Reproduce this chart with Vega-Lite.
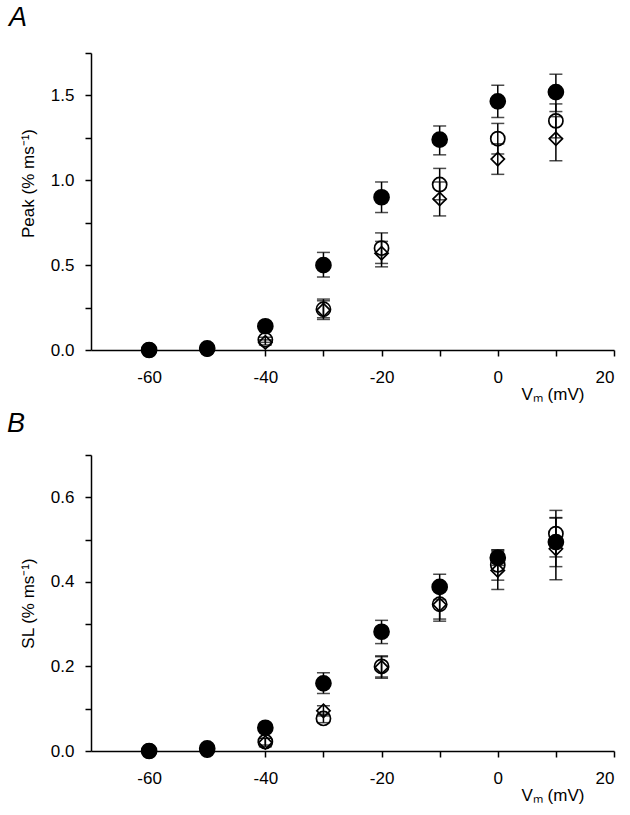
{
  "$schema": "https://vega.github.io/schema/vega-lite/v6.json",
  "padding": {"left": 7, "top": 4, "right": 5, "bottom": 5},
  "background": "white",
  "config": {
    "font": "Liberation Sans",
    "view": {"stroke": null},
    "axis": {
      "grid": false,
      "domainColor": "black",
      "domainWidth": 1.5,
      "tickColor": "black",
      "tickWidth": 1.5,
      "tickSize": 6,
      "labelColor": "black",
      "labelFontSize": 17,
      "labelFont": "Liberation Sans",
      "titleColor": "black",
      "titleFont": "Liberation Sans",
      "titleFontWeight": "normal",
      "titleFontSize": 17
    },
    "title": {"color": "black", "font": "Liberation Sans"}
  },
  "datasets": {
    "peak": [
      {"v": -60, "series": "open", "y": 0.0, "lo": -0.01, "hi": 0.01},
      {"v": -60, "series": "diamond", "y": 0.0, "lo": -0.01, "hi": 0.01},
      {"v": -60, "series": "filled", "y": 0.0, "lo": -0.01, "hi": 0.01},
      {"v": -50, "series": "open", "y": 0.005, "lo": 0.0, "hi": 0.01},
      {"v": -50, "series": "diamond", "y": 0.005, "lo": 0.0, "hi": 0.01},
      {"v": -50, "series": "filled", "y": 0.01, "lo": 0.0, "hi": 0.02},
      {"v": -40, "series": "open", "y": 0.06, "lo": 0.045, "hi": 0.075},
      {"v": -40, "series": "diamond", "y": 0.045, "lo": 0.03, "hi": 0.06},
      {"v": -40, "series": "filled", "y": 0.14, "lo": 0.12, "hi": 0.16},
      {"v": -30, "series": "open", "y": 0.24, "lo": 0.19, "hi": 0.29},
      {"v": -30, "series": "diamond", "y": 0.235, "lo": 0.18, "hi": 0.3},
      {"v": -30, "series": "filled", "y": 0.5, "lo": 0.43, "hi": 0.575},
      {"v": -20, "series": "open", "y": 0.6, "lo": 0.51, "hi": 0.69},
      {"v": -20, "series": "diamond", "y": 0.57, "lo": 0.49, "hi": 0.64},
      {"v": -20, "series": "filled", "y": 0.9, "lo": 0.81, "hi": 0.99},
      {"v": -10, "series": "open", "y": 0.975, "lo": 0.885, "hi": 1.07},
      {"v": -10, "series": "diamond", "y": 0.89, "lo": 0.79, "hi": 0.99},
      {"v": -10, "series": "filled", "y": 1.24, "lo": 1.15, "hi": 1.32},
      {"v": 0, "series": "open", "y": 1.245, "lo": 1.155, "hi": 1.335},
      {"v": 0, "series": "diamond", "y": 1.125, "lo": 1.035, "hi": 1.215},
      {"v": 0, "series": "filled", "y": 1.465, "lo": 1.37, "hi": 1.56},
      {"v": 10, "series": "open", "y": 1.35, "lo": 1.25, "hi": 1.45},
      {"v": 10, "series": "diamond", "y": 1.245, "lo": 1.115, "hi": 1.375},
      {"v": 10, "series": "filled", "y": 1.52, "lo": 1.405, "hi": 1.625}
    ],
    "sl": [
      {"v": -60, "series": "open", "y": 0.0, "lo": -0.004, "hi": 0.004},
      {"v": -60, "series": "diamond", "y": 0.0, "lo": -0.004, "hi": 0.004},
      {"v": -60, "series": "filled", "y": 0.0, "lo": -0.004, "hi": 0.004},
      {"v": -50, "series": "open", "y": 0.002, "lo": 0.0, "hi": 0.005},
      {"v": -50, "series": "diamond", "y": 0.002, "lo": 0.0, "hi": 0.005},
      {"v": -50, "series": "filled", "y": 0.006, "lo": 0.002, "hi": 0.01},
      {"v": -40, "series": "open", "y": 0.022, "lo": 0.014, "hi": 0.03},
      {"v": -40, "series": "diamond", "y": 0.02, "lo": 0.01, "hi": 0.03},
      {"v": -40, "series": "filled", "y": 0.055, "lo": 0.047, "hi": 0.063},
      {"v": -30, "series": "open", "y": 0.077, "lo": 0.067, "hi": 0.087},
      {"v": -30, "series": "diamond", "y": 0.095, "lo": 0.083, "hi": 0.107},
      {"v": -30, "series": "filled", "y": 0.16, "lo": 0.136, "hi": 0.185},
      {"v": -20, "series": "open", "y": 0.2, "lo": 0.175, "hi": 0.225},
      {"v": -20, "series": "diamond", "y": 0.198, "lo": 0.172, "hi": 0.223},
      {"v": -20, "series": "filled", "y": 0.282, "lo": 0.254, "hi": 0.309},
      {"v": -10, "series": "open", "y": 0.347, "lo": 0.312, "hi": 0.382},
      {"v": -10, "series": "diamond", "y": 0.346, "lo": 0.307, "hi": 0.386},
      {"v": -10, "series": "filled", "y": 0.388, "lo": 0.358, "hi": 0.418},
      {"v": 0, "series": "open", "y": 0.44, "lo": 0.404, "hi": 0.476},
      {"v": 0, "series": "diamond", "y": 0.427, "lo": 0.382, "hi": 0.472},
      {"v": 0, "series": "filled", "y": 0.457, "lo": 0.439, "hi": 0.475},
      {"v": 10, "series": "open", "y": 0.514, "lo": 0.459, "hi": 0.569},
      {"v": 10, "series": "diamond", "y": 0.478, "lo": 0.405, "hi": 0.551},
      {"v": 10, "series": "filled", "y": 0.494, "lo": 0.436, "hi": 0.552}
    ]
  },
  "vconcat": [
    {
      "width": 523,
      "height": 297,
      "title": {"text": "A", "anchor": "start", "frame": "group", "fontStyle": "italic", "fontWeight": "normal", "fontSize": 27, "dx": -82, "offset": 20},
      "data": {"name": "peak"},
      "encoding": {
        "x": {"field": "v", "type": "quantitative", "scale": {"domain": [-70, 20], "nice": false},
          "axis": {"values": [-60, -50, -40, -30, -20, -10, 0, 10, 20], "labelExpr": "datum.value % 20 == 0 ? '' + datum.value : ''", "labelPadding": 13, "title": "Vₘ  (mV)", "titleAnchor": "start", "titleAlign": "left", "titleX": 430, "titleY": 36, "titleBaseline": "top", "titleFontSize": 17}}
      },
      "layer": [
        {"mark": {"type": "rule", "color": "black", "strokeWidth": 1.5},
         "encoding": {"y": {"field": "lo", "type": "quantitative", "scale": {"domain": [0, 1.75], "nice": false}}, "y2": {"field": "hi"}}},
        {"mark": {"type": "tick", "orient": "horizontal", "color": "black", "size": 13, "thickness": 1.5},
         "encoding": {"y": {"field": "lo", "type": "quantitative"}}},
        {"mark": {"type": "tick", "orient": "horizontal", "color": "black", "size": 13, "thickness": 1.5},
         "encoding": {"y": {"field": "hi", "type": "quantitative"}}},
        {"mark": {"type": "point", "strokeWidth": 1.7, "stroke": "black", "opacity": 1},
         "encoding": {
           "y": {"field": "y", "type": "quantitative",
             "axis": {"values": [0, 0.25, 0.5, 0.75, 1, 1.25, 1.5, 1.75], "format": ".1f", "labelExpr": "datum.value % 0.5 == 0 ? datum.label : ''", "labelPadding": 11, "title": "Peak  (% ms⁻¹)", "titlePadding": 13, "titleY": 130}},
           "shape": {"field": "series", "type": "nominal", "scale": {"domain": ["filled", "open", "diamond"], "range": ["circle", "circle", "diamond"]}, "legend": null},
           "fill": {"field": "series", "type": "nominal", "scale": {"domain": ["filled", "open", "diamond"], "range": ["black", "transparent", "transparent"]}, "legend": null},
           "size": {"field": "series", "type": "nominal", "scale": {"domain": ["filled", "open", "diamond"], "range": [225, 175, 320]}, "legend": null}
         }}
      ]
    },
    {
      "width": 523,
      "height": 296,
      "title": {"text": "B", "anchor": "start", "frame": "group", "fontStyle": "italic", "fontWeight": "normal", "fontSize": 27, "dx": -84, "offset": 16},
      "data": {"name": "sl"},
      "encoding": {
        "x": {"field": "v", "type": "quantitative", "scale": {"domain": [-70, 20], "nice": false},
          "axis": {"values": [-60, -50, -40, -30, -20, -10, 0, 10, 20], "labelExpr": "datum.value % 20 == 0 ? '' + datum.value : ''", "labelPadding": 13, "title": "Vₘ  (mV)", "titleAnchor": "start", "titleAlign": "left", "titleX": 430, "titleY": 36, "titleBaseline": "top", "titleFontSize": 17}}
      },
      "layer": [
        {"mark": {"type": "rule", "color": "black", "strokeWidth": 1.5},
         "encoding": {"y": {"field": "lo", "type": "quantitative", "scale": {"domain": [0, 0.7], "nice": false}}, "y2": {"field": "hi"}}},
        {"mark": {"type": "tick", "orient": "horizontal", "color": "black", "size": 13, "thickness": 1.5},
         "encoding": {"y": {"field": "lo", "type": "quantitative"}}},
        {"mark": {"type": "tick", "orient": "horizontal", "color": "black", "size": 13, "thickness": 1.5},
         "encoding": {"y": {"field": "hi", "type": "quantitative"}}},
        {"mark": {"type": "point", "strokeWidth": 1.7, "stroke": "black", "opacity": 1},
         "encoding": {
           "y": {"field": "y", "type": "quantitative",
             "axis": {"values": [0, 0.1, 0.2, 0.3, 0.4, 0.5, 0.6, 0.7], "format": ".1f", "labelExpr": "round(datum.value * 10) % 2 == 0 ? datum.label : ''", "labelPadding": 11, "title": "SL (% ms⁻¹)", "titlePadding": 13}},
           "shape": {"field": "series", "type": "nominal", "scale": {"domain": ["filled", "open", "diamond"], "range": ["circle", "circle", "diamond"]}, "legend": null},
           "fill": {"field": "series", "type": "nominal", "scale": {"domain": ["filled", "open", "diamond"], "range": ["black", "transparent", "transparent"]}, "legend": null},
           "size": {"field": "series", "type": "nominal", "scale": {"domain": ["filled", "open", "diamond"], "range": [225, 175, 320]}, "legend": null}
         }}
      ]
    }
  ],
  "bounds": "flush",
  "spacing": 105
}
